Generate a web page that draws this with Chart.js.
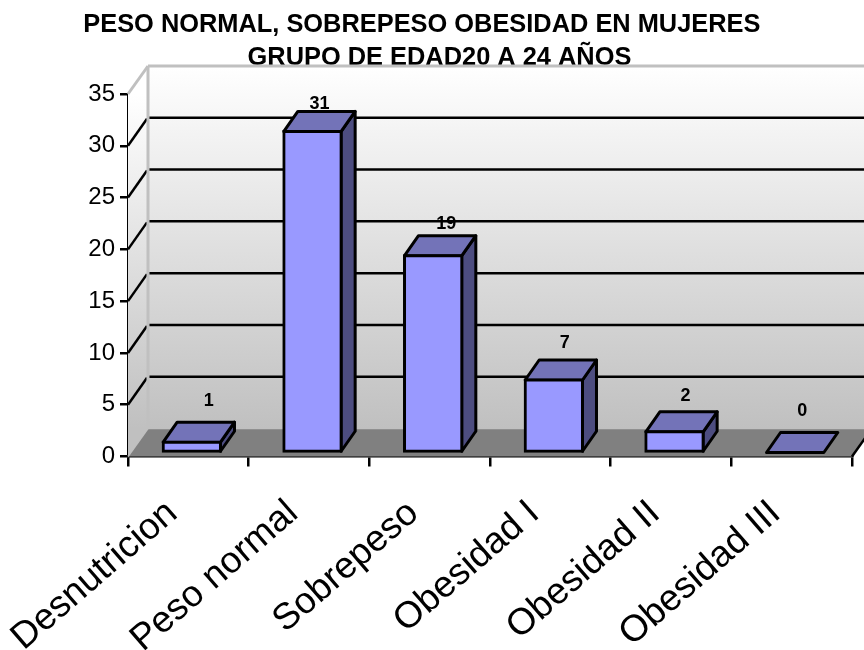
<!DOCTYPE html>
<html>
<head>
<meta charset="utf-8">
<style>
    html, body { margin: 0; padding: 0; background: #fff; }
    #wrap { width: 864px; height: 650px; }
</style>
<script src="https://cdn.jsdelivr.net/npm/chart.js@4"></script>
</head>
<body>
<div id="wrap"><canvas id="chartPeso"></canvas></div>
<script>
const categories = ['Desnutricion', 'Peso normal', 'Sobrepeso', 'Obesidad I', 'Obesidad II', 'Obesidad III'];
const values = [1, 31, 19, 7, 2, 0];
const titleLines = ['PESO NORMAL, SOBREPESO OBESIDAD EN MUJERES     ', 'GRUPO DE EDAD20 A 24 AÑOS'];

// depth of the fake 3D box, and of the bars inside it
const wallDx = 20, wallDy = 28;
const barDx = 14, barDy = 20;
const barShiftX = 3.5, barShiftY = -4;

// the value labels do not sit at a fixed distance from the bars in the original
const labelNudgeX = [17, 7, 13, 11, 11, 7];
const labelNudgeY = [41, 27, 32, 37, 36, 41];

function line(ctx, x1, y1, x2, y2) {
    ctx.beginPath();
    ctx.moveTo(x1, y1);
    ctx.lineTo(x2, y2);
    ctx.stroke();
}

function poly(ctx, pts, fill) {
    ctx.beginPath();
    pts.forEach(function (p, i) {
        if (i === 0) ctx.moveTo(p[0], p[1]);
        else ctx.lineTo(p[0], p[1]);
    });
    ctx.closePath();
    ctx.fillStyle = fill;
    ctx.fill();
    ctx.stroke();
}

const box3d = {
    id: 'box3d',
    afterLayout(chart) {
        // the two title lines are centred a bit right of the middle
        chart.titleBlock.left += 27;
    },
    beforeDatasetsDraw(chart) {
        const ctx = chart.ctx;
        const area = chart.chartArea;
        const y = chart.scales.y;
        const y0 = y.getPixelForValue(0);
        const yTop = y.getPixelForValue(35);
        const backL = area.left + wallDx;
        const backR = area.right + wallDx;

        ctx.save();
        // back wall
        let grad = ctx.createLinearGradient(0, yTop - wallDy, 0, y0 - wallDy);
        grad.addColorStop(0, '#ffffff');
        grad.addColorStop(1, '#c0c0c0');
        ctx.fillStyle = grad;
        ctx.fillRect(backL, yTop - wallDy, backR - backL, y0 - yTop);

        // left wall
        grad = ctx.createLinearGradient(0, yTop, 0, y0 - wallDy);
        grad.addColorStop(0, '#ffffff');
        grad.addColorStop(1, '#c0c0c0');
        ctx.beginPath();
        ctx.moveTo(area.left, yTop);
        ctx.lineTo(backL, yTop - wallDy);
        ctx.lineTo(backL, y0 - wallDy);
        ctx.lineTo(area.left, y0);
        ctx.closePath();
        ctx.fillStyle = grad;
        ctx.fill();

        // floor
        ctx.beginPath();
        ctx.moveTo(area.left, y0);
        ctx.lineTo(backL, y0 - wallDy);
        ctx.lineTo(backR, y0 - wallDy);
        ctx.lineTo(area.right, y0);
        ctx.closePath();
        ctx.fillStyle = '#808080';
        ctx.fill();

        // grid lines
        ctx.strokeStyle = '#000';
        ctx.lineWidth = 2.5;
        y.ticks.forEach(function (t) {
            if (t.value === 0 || t.value === 35) return;
            const py = y.getPixelForValue(t.value);
            line(ctx, area.left, py, backL - 1, py - wallDy + 1);
            line(ctx, backL, py - wallDy, backR, py - wallDy);
        });
        line(ctx, area.right, y0, backR, y0 - wallDy);

        // wall edges
        ctx.strokeStyle = '#c0c0c0';
        ctx.lineWidth = 3;
        line(ctx, area.left, yTop, backL, yTop - wallDy);
        line(ctx, backL, yTop - wallDy, backR, yTop - wallDy);
        line(ctx, backL, yTop - wallDy, backL, y0 - wallDy);
        ctx.lineWidth = 1.5;
        line(ctx, area.left, y0, backL, y0 - wallDy);
        line(ctx, backL, y0 - wallDy, backR, y0 - wallDy);
        ctx.restore();

        // bars are drawn by the library inside this translate, restored in afterDatasetsDraw
        ctx.save();
        ctx.translate(barShiftX, barShiftY);
        ctx.strokeStyle = '#000';
        ctx.lineWidth = 3;
        ctx.lineJoin = 'round';
        chart.getDatasetMeta(0).data.forEach(function (bar) {
            const p = bar.getProps(['x', 'y', 'base', 'width']);
            const l = p.x - p.width / 2;
            const r = p.x + p.width / 2;
            if (p.base > p.y) {
                poly(ctx, [[r, p.y], [r + barDx, p.y - barDy], [r + barDx, p.base - barDy], [r, p.base]], '#4d4d80');
            }
            poly(ctx, [[l, p.y], [l + barDx, p.y - barDy], [r + barDx, p.y - barDy], [r, p.y]], '#7373b8');
        });
    },
    afterDatasetsDraw(chart) {
        const ctx = chart.ctx;
        ctx.fillStyle = '#000';
        ctx.font = 'bold 18px "Liberation Sans", Arial, sans-serif';
        ctx.textAlign = 'center';
        ctx.textBaseline = 'middle';
        chart.getDatasetMeta(0).data.forEach(function (bar, i) {
            const p = bar.getProps(['x', 'y']);
            ctx.fillText(values[i], p.x + labelNudgeX[i], p.y - labelNudgeY[i]);
        });
        ctx.restore();
    }
};

const ctx = document.getElementById('chartPeso');
const data = {
    labels: categories,
    datasets: [{
        data: values,
        backgroundColor: '#9999ff',
        borderColor: '#000',
        borderWidth: 3,
        borderSkipped: false,
        inflateAmount: 1.5,
        categoryPercentage: 1,
        barPercentage: 0.475,
        clip: false
    }]
};
const config = {
    type: 'bar',
    data: data,
    plugins: [box3d],
    options: {
        responsive: true,
        maintainAspectRatio: false,
        animation: false,
        layout: {
            padding: { left: 0, right: 12, top: 0, bottom: 0 }
        },
        plugins: {
            legend: { display: false },
            tooltip: { enabled: false },
            title: {
                display: true,
                text: titleLines,
                color: '#000',
                font: { family: '"Liberation Sans", Arial, sans-serif', size: 25.4, weight: 'bold', lineHeight: 33 / 25.4 },
                padding: { top: 8.5, bottom: 19.5 }
            }
        },
        scales: {
            x: {
                afterFit: function (scale) {
                    scale.height = 193.5;
                    // long rotated labels must not push the axis to the right
                    scale.paddingLeft = 0;
                    scale.paddingRight = 0;
                },
                border: { color: '#000', width: 2.5 },
                grid: { drawOnChartArea: false, color: '#000', lineWidth: 2.5, tickLength: 10 },
                ticks: {
                    autoSkip: false,
                    minRotation: 41,
                    maxRotation: 41,
                    color: '#000',
                    padding: 25,
                    labelOffset: -16,
                    font: { family: '"Liberation Sans", Arial, sans-serif', size: 37 }
                }
            },
            y: {
                min: 0,
                max: 35,
                afterFit: function (scale) { scale.width = 128; },
                border: { color: '#000', width: 2.5 },
                grid: { drawOnChartArea: false, color: '#000', lineWidth: 2.5, tickLength: 8 },
                ticks: {
                    stepSize: 5,
                    color: '#000',
                    padding: 5,
                    font: { family: '"Liberation Sans", Arial, sans-serif', size: 24 }
                }
            }
        }
    }
};
const myChart = new Chart(ctx, config);
</script>
</body>
</html>
